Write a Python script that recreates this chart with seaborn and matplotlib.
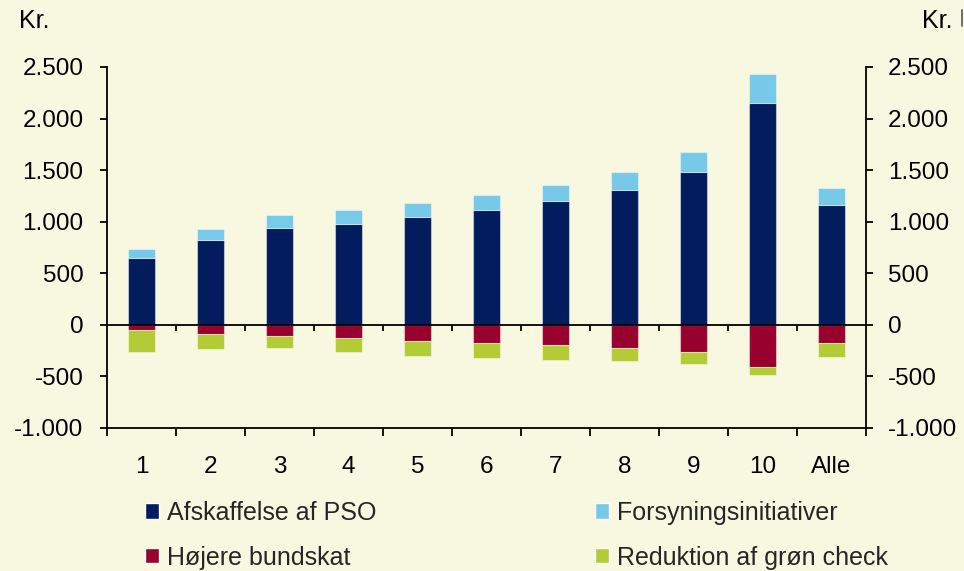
import matplotlib
matplotlib.use("Agg")
import matplotlib.pyplot as plt
import seaborn as sns
import numpy as np
from matplotlib.patches import Patch
from matplotlib.lines import Line2D
from matplotlib.ticker import FuncFormatter
from matplotlib.markers import TICKDOWN

categories = ["1", "2", "3", "4", "5", "6", "7", "8", "9", "10", "Alle"]
pso = [650, 820, 940, 980, 1050, 1110, 1200, 1310, 1480, 2150, 1160]
forsyning = [90, 110, 125, 135, 135, 150, 155, 175, 195, 280, 165]
hojere = [-48, -87, -107, -126, -155, -174, -194, -223, -262, -407, -174]
reduktion = [-214, -145, -116, -136, -145, -146, -145, -126, -116, -77, -136]
series_names = ["Afskaffelse af PSO", "Forsyningsinitiativer", "Højere bundskat", "Reduktion af grøn check"]
yticks = [-1000, -500, 0, 500, 1000, 1500, 2000, 2500]

bg = "#F8F8E1"
c_pso = "#021C5E"
c_for = "#76C9E8"
c_hoj = "#98002E"
c_red = "#B3CB35"

sns.set_theme(style="white")
plt.rcParams["font.family"] = ["Liberation Sans", "DejaVu Sans"]
FS = 17.5

fig = plt.figure(figsize=(9.64, 5.71), dpi=100, facecolor=bg)
ax = fig.add_axes([107 / 964, 1 - 428 / 571, (866 - 107) / 964, (428 - 67) / 571])
ax.set_facecolor(bg)

bar_kw = dict(width=0.4, saturation=1, errorbar=None, ax=ax,
              edgecolor=(1, 1, 1, 0.45), linewidth=0.8, zorder=2)
sns.barplot(x=categories, y=pso, color=c_pso, **bar_kw)
sns.barplot(x=categories, y=forsyning, bottom=np.array(pso), color=c_for, **bar_kw)
sns.barplot(x=categories, y=hojere, color=c_hoj, **bar_kw)
sns.barplot(x=categories, y=reduktion, bottom=np.array(hojere), color=c_red, **bar_kw)

n = len(categories)
ax.set_xlim(-0.5, n - 0.5)
ax.set_ylim(-1000, 2500)
fmt = FuncFormatter(lambda v, p: f"{int(v):,}".replace(",", "."))

ax.set_xticks(np.arange(-0.5, n, 1.0))
ax.set_xticklabels([])
ax.set_xticks(np.arange(n), minor=True)
ax.set_xticklabels(categories, minor=True)
ax.tick_params(axis="x", which="major", direction="out", length=6, width=1.3, color="black", bottom=True)
ax.tick_params(axis="x", which="minor", length=0, pad=20, labelsize=FS, labelcolor="black", bottom=True)
ax.set_yticks(yticks)
ax.yaxis.set_major_formatter(fmt)
ax.tick_params(axis="y", direction="out", length=5, width=1.3, color="black", pad=12,
               labelsize=FS, labelcolor="black", left=True)
ax.set_xlabel("")
ax.set_ylabel("")

for s in ["left", "bottom"]:
    ax.spines[s].set_color("black")
    ax.spines[s].set_linewidth(1.3)
ax.spines["top"].set_visible(False)
ax.spines["right"].set_visible(False)

ax.axhline(0, color="black", lw=1.3, zorder=3)
bounds = np.arange(0.5, n - 1, 1.0)
ax.plot(bounds, np.zeros_like(bounds), linestyle="none", marker=TICKDOWN,
        markersize=4, markeredgewidth=1.3, color="black", zorder=3, clip_on=False)

ax2 = ax.twinx()
ax2.set_ylim(-1000, 2500)
ax2.set_yticks(yticks)
ax2.yaxis.set_major_formatter(fmt)
ax2.tick_params(axis="y", direction="out", length=5, width=1.3, color="black", pad=11,
                labelsize=FS, labelcolor="black", right=True)
for s in ["left", "top", "bottom"]:
    ax2.spines[s].set_visible(False)
ax2.spines["right"].set_color("black")
ax2.spines["right"].set_linewidth(1.3)

fig.text(19 / 964, 1 - 21 / 571, "Kr.", ha="left", va="center", fontsize=18, color="black")
fig.text(953 / 964, 1 - 21 / 571, "Kr.", ha="right", va="center", fontsize=18, color="black")
fig.add_artist(Line2D([962 / 964, 962 / 964], [1 - 10 / 571, 1 - 26 / 571],
                      color="#555555", lw=1.2, transform=fig.transFigure))

handles = [Patch(facecolor=c_pso, label=series_names[0]),
           Patch(facecolor=c_hoj, label=series_names[2]),
           Patch(facecolor=c_for, label=series_names[1]),
           Patch(facecolor=c_red, label=series_names[3])]
fig.legend(handles=handles, loc="upper left", bbox_to_anchor=(145 / 964, 1 - 501 / 571),
           ncol=2, frameon=False, fontsize=18, handlelength=0.57, handleheight=0.57,
           handletextpad=0.3, columnspacing=8.75, labelspacing=0.82, borderpad=0, borderaxespad=0)

fig.savefig("out.png", dpi=100, facecolor=bg)
